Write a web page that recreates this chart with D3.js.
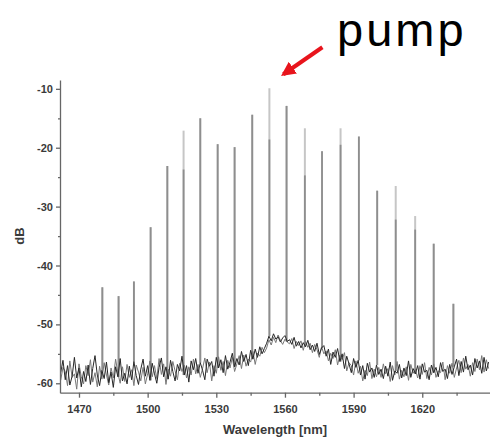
<!DOCTYPE html>
<html>
<head>
<meta charset="utf-8">
<script src="https://cdn.jsdelivr.net/npm/d3@7"></script>
<style>
  body { margin: 0; background: #fff; }
  .axis text { font-family: "Liberation Sans", Arial, sans-serif; font-weight: bold; font-size: 11px; fill: #3a3a3a; }
  .axis path, .axis line { stroke: #666; stroke-width: 1.3; }
</style>
</head>
<body>
<div id="chart"></div>
<script>
// comb line positions (nm) and peak levels (dB)
var combWl = [1480.2, 1487.3, 1494.0, 1501.3, 1508.6, 1515.7, 1523.0, 1530.6, 1538.0, 1545.7, 1553.2,
              1560.7, 1568.7, 1576.2, 1584.3, 1592.3, 1600.3, 1608.4, 1616.9, 1625.0, 1633.6]
// lighter trace (tallest reading)
var peakLight = [-43.7, -45.2, -42.7, -33.5, -23.1, -17.1, -15.0, -19.4, -19.9, -14.4, -9.9,
                 -12.9, -16.7, -20.6, -16.7, -18.1, -27.3, -26.5, -31.6, -36.3, -46.5]
// darker trace
var peakDark = [-43.7, -45.2, -42.7, -33.5, -23.1, -23.7, -15.0, -19.4, -19.9, -14.4, -18.6,
                -12.9, -24.7, -20.6, -19.5, -18.1, -27.3, -32.2, -33.9, -36.3, -46.5]

// noise floor, 1 nm steps starting at 1462 nm (dark trace)
var noiseStart = 1462
var noise = [
  -58.2,-56.1,-59.4,-57.0,-60.3,-58.8,-55.6,-59.1,-57.4,-60.6,
  -58.0,-59.7,-56.9,-60.2,-57.5,-55.3,-58.6,-60.4,-57.8,-59.2,
  -56.4,-59.9,-58.1,-60.7,-57.2,-58.9,-55.8,-59.6,-58.3,-60.1,
  -57.1,-59.4,-56.3,-58.7,-60.2,-57.6,-55.9,-58.8,-57.0,-59.5,
  -56.6,-58.4,-60.0,-57.3,-55.7,-58.9,-57.2,-59.3,-56.1,-58.0,
  -59.6,-56.8,-57.9,-55.4,-58.6,-57.0,-59.8,-56.2,-57.7,-55.8,
  -58.3,-56.5,-57.8,-59.4,-55.9,-57.1,-56.3,-58.8,-55.6,-57.4,
  -56.0,-58.2,-55.3,-57.6,-56.4,-54.9,-57.2,-55.8,-56.9,-54.6,
  -56.3,-55.1,-57.0,-54.4,-55.9,-54.2,-55.6,-53.8,-55.0,-54.1,
  -53.2,-52.0,-52.8,-51.6,-52.5,-52.1,-53.0,-52.3,-51.9,-52.9,
  -52.6,-53.4,-52.2,-53.7,-52.9,-54.0,-53.1,-53.8,-52.7,-54.3,
  -53.5,-54.6,-53.2,-55.1,-54.0,-53.6,-55.4,-54.2,-56.8,-54.7,
  -55.6,-54.1,-56.3,-55.0,-57.5,-55.4,-56.7,-58.2,-55.8,-57.3,
  -56.1,-58.6,-57.0,-59.3,-56.6,-58.1,-57.4,-59.0,-56.9,-58.5,
  -57.6,-59.2,-57.1,-58.8,-56.4,-59.5,-57.9,-58.3,-56.8,-59.1,
  -57.4,-58.7,-56.2,-59.0,-57.5,-58.4,-57.0,-59.3,-56.7,-58.1,
  -57.8,-59.4,-56.9,-58.2,-57.3,-58.9,-56.5,-58.0,-57.6,-59.2,
  -56.8,-58.5,-57.2,-55.9,-58.7,-56.3,-58.1,-55.4,-57.7,-56.9,
  -58.6,-55.8,-57.4,-56.2,-58.3,-55.6,-57.9,-56.4
]
// second (lighter) noise trace, same wavelength grid
var noiseB = [
  -59.5,-57.3,-58.0,-60.4,-56.2,-59.0,-58.4,-61.0,-56.7,-58.9,
  -60.1,-57.0,-58.7,-56.0,-59.8,-58.2,-60.6,-57.1,-59.3,-56.5,
  -58.6,-60.3,-57.4,-59.1,-55.9,-58.3,-60.0,-57.2,-59.7,-56.8,
  -59.0,-57.7,-60.4,-56.9,-58.1,-59.6,-57.3,-60.1,-58.4,-56.2,
  -58.9,-57.0,-59.2,-55.8,-58.5,-56.7,-60.2,-57.6,-58.8,-56.3,
  -57.9,-59.4,-56.6,-58.0,-56.9,-59.1,-57.2,-58.6,-55.9,-58.4,
  -56.8,-59.0,-57.5,-55.7,-58.2,-56.4,-59.6,-57.0,-58.3,-55.5,
  -57.8,-56.3,-58.7,-56.1,-57.4,-55.6,-58.0,-56.7,-55.3,-57.5,
  -55.2,-57.1,-55.9,-56.4,-54.6,-56.8,-54.9,-55.4,-53.9,-54.8,
  -54.0,-52.6,-53.5,-52.2,-53.1,-51.8,-52.7,-53.4,-52.5,-53.0,
  -53.3,-52.4,-54.1,-52.9,-53.6,-52.8,-54.4,-52.9,-53.9,-53.2,
  -54.8,-53.4,-54.3,-55.6,-53.8,-55.0,-54.5,-56.2,-54.9,-55.8,
  -54.3,-56.9,-55.2,-56.0,-54.8,-57.9,-56.5,-57.0,-58.6,-56.2,
  -58.3,-57.1,-59.6,-57.8,-58.7,-56.4,-59.2,-57.6,-58.9,-57.3,
  -59.0,-56.7,-58.4,-57.5,-59.7,-57.0,-58.6,-56.3,-59.3,-57.8,
  -58.9,-57.2,-59.5,-56.8,-58.3,-57.6,-59.1,-57.0,-58.5,-56.5,
  -59.2,-57.3,-58.6,-56.7,-59.0,-57.9,-58.2,-56.4,-59.4,-57.0,
  -58.3,-56.6,-59.0,-57.4,-56.1,-58.2,-55.7,-57.6,-56.8,-58.8,
  -56.5,-58.0,-55.9,-57.7,-55.3,-58.1,-56.0,-57.5
]

var xTicks = [1470, 1500, 1530, 1560, 1590, 1620]
var yTicks = [-10, -20, -30, -40, -50, -60]
var pumpIndex = 10

var width = 490, height = 441

var svg = d3.select("#chart")
    .append("svg")
        .attr("width", width)
        .attr("height", height)
        .style("background", "#fff")

// slight softening, the original is a scan
svg.append("defs").append("filter")
    .attr("id", "soft")
  .append("feGaussianBlur")
    .attr("stdDeviation", 0.35)

var x = d3.scaleLinear()
    .domain([1461.7, 1649.6])
    .range([60, 490])

var y = d3.scaleLinear()
    .domain([-61.6, -8.5])
    .range([392.7, 80])

function noiseAt(wl) {
    var i = Math.round(wl - noiseStart)
    return noise[Math.max(0, Math.min(noise.length - 1, i))]
}

// comb lines - light trace
svg.append("g").selectAll("line")
    .data(combWl)
    .join("line")
        .attr("x1", d => x(d))
        .attr("x2", d => x(d))
        .attr("y1", d => y(noiseAt(d)))
        .attr("y2", (d, i) => y(peakLight[i]))
        .attr("stroke", "#c6c6c6")
        .attr("stroke-width", 2)

// comb lines - dark trace
svg.append("g").selectAll("line")
    .data(combWl)
    .join("line")
        .attr("x1", d => x(d))
        .attr("x2", d => x(d))
        .attr("y1", d => y(noiseAt(d)))
        .attr("y2", (d, i) => y(peakDark[i]))
        .attr("stroke", "#8e8e8e")
        .attr("stroke-width", 1.8)

// noise floor
var line = d3.line()
    .x((d, i) => x(noiseStart + i))
    .y(d => y(d))

var noiseG = svg.append("g").attr("filter", "url(#soft)")

noiseG.append("path")
    .datum(noiseB)
    .attr("d", line)
    .attr("fill", "none")
    .attr("stroke", "#777")
    .attr("stroke-width", 1)

noiseG.append("path")
    .datum(noise)
    .attr("d", line)
    .attr("fill", "none")
    .attr("stroke", "#262626")
    .attr("stroke-width", 1)

// axes
var xAxis = d3.axisBottom(x)
    .tickValues(d3.range(1470, 1650, 15))
    .tickSizeInner(5)
    .tickSizeOuter(0)
    .tickFormat(d => xTicks.includes(d) ? d : "")
svg.append("g")
    .attr("class", "axis")
    .attr("transform", "translate(0," + y(-61.6) + ")")
    .call(xAxis)
    .call(g => g.selectAll(".tick").filter(d => !xTicks.includes(d)).select("line").attr("y2", 3))
    .selectAll("text").attr("dy", "1.1em")

var yAxis = d3.axisLeft(y)
    .tickValues(d3.range(-60, -5, 5))
    .tickSizeInner(4)
    .tickSizeOuter(0)
    .tickFormat(d => yTicks.includes(d) ? d : "")
svg.append("g")
    .attr("class", "axis")
    .attr("transform", "translate(" + x(1461.7) + ",0)")
    .call(yAxis)
    .call(g => g.selectAll(".tick").filter(d => !yTicks.includes(d)).select("line").attr("x2", -2))
    .selectAll("text").attr("x", -7)

// axis labels
svg.append("text")
    .attr("x", 275)
    .attr("y", 434)
    .attr("text-anchor", "middle")
    .style("font-family", "Liberation Sans, Arial, sans-serif")
    .style("font-weight", "bold")
    .style("font-size", "13px")
    .style("fill", "#3a3a3a")
    .text("Wavelength [nm]")

svg.append("text")
    .attr("transform", "translate(24,236) rotate(-90)")
    .attr("text-anchor", "middle")
    .style("font-family", "Liberation Sans, Arial, sans-serif")
    .style("font-weight", "bold")
    .style("font-size", "13px")
    .style("fill", "#3a3a3a")
    .text("dB")

// pump annotation
var px = x(combWl[pumpIndex]), py = y(peakLight[pumpIndex])
svg.select("defs").append("marker")
    .attr("id", "arrow")
    .attr("viewBox", "0 0 10 10")
    .attr("refX", 8)
    .attr("refY", 5)
    .attr("markerWidth", 3.6)
    .attr("markerHeight", 3.6)
    .attr("orient", "auto")
  .append("path")
    .attr("d", "M0,0L10,5L0,10z")
    .attr("fill", "#e8141c")

svg.append("line")
    .attr("x1", px + 53)
    .attr("y1", py - 41)
    .attr("x2", px + 14)
    .attr("y2", py - 14)
    .attr("stroke", "#e8141c")
    .attr("stroke-width", 4)
    .attr("marker-end", "url(#arrow)")

svg.append("text")
    .attr("x", 337)
    .attr("y", 46)
    .style("font-family", "Liberation Sans, Arial, sans-serif")
    .style("font-size", "47px")
    .style("letter-spacing", "3px")
    .style("fill", "#000")
    .text("pump")
</script>
</body>
</html>
